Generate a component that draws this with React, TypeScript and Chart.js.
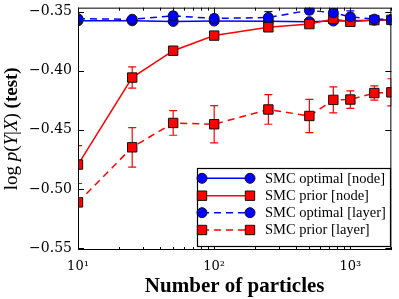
import React, { useEffect, useRef } from 'react';
import { Chart, registerables } from 'chart.js';
Chart.register(...registerables);

const particles = [10, 25, 50, 100, 250, 500, 750, 1000, 1500, 2000];

const optimalNode = [-0.3578, -0.3578, -0.3583, -0.358, -0.3582, -0.3585, -0.358, -0.3577, -0.3573, -0.3572];
const optimalNodeErr = [0.0015, 0.0015, 0.0015, 0.0015, 0.0015, 0.0015, 0.0015, 0.0015, 0.0015, 0.0015];
const priorNode = [-0.4794, -0.4058, -0.3831, -0.3703, -0.3633, -0.3606, -0.3562, -0.3586, -0.3572, -0.357];
const priorNodeErr = [0.016, 0.009, 0.002, 0.002, 0.002, 0.002, 0.002, 0.002, 0.002, 0.002];
const optimalLayer = [-0.356, -0.3565, -0.3536, -0.3558, -0.355, -0.3489, -0.3511, -0.3544, -0.3564, -0.3567];
const optimalLayerErr = [0.002, 0.002, 0.003, 0.003, 0.005, 0.003, 0.003, 0.005, 0.002, 0.002];
const priorLayer = [-0.5114, -0.4648, -0.4442, -0.4453, -0.4328, -0.4383, -0.4247, -0.4244, -0.4189, -0.4183];
const priorLayerErr = [0.002, 0.0167, 0.0104, 0.0157, 0.0125, 0.014, 0.011, 0.0074, 0.006, 0.0115];

const seriesLabels = ['SMC optimal [node]', 'SMC prior [node]', 'SMC optimal [layer]', 'SMC prior [layer]'];
const yTicks = [-0.55, -0.5, -0.45, -0.4, -0.35];
const xMajorTicks = [10, 100, 1000];
const xMinorTicks = [20, 30, 40, 50, 60, 70, 80, 90, 200, 300, 400, 500, 600, 700, 800, 900, 2000];
const xTitle = 'Number of particles';

const RED = '#ff0000';
const BLUE = '#0000ff';
const DASH = [7, 5];

const seriesValues = [optimalNode, priorNode, optimalLayer, priorLayer];
const seriesErrors = [optimalNodeErr, priorNodeErr, optimalLayerErr, priorLayerErr];
const seriesColors = [BLUE, RED, BLUE, RED];
const seriesDashed = [false, false, true, true];
const seriesMarker = ['circle', 'rect', 'circle', 'rect'];

const SUP: Record<string, string> = { '0': '⁰', '1': '¹', '2': '²', '3': '³', '4': '⁴' };

function drawMarker(ctx: CanvasRenderingContext2D, kind: string, x: number, y: number, color: string) {
  ctx.save();
  ctx.setLineDash([]);
  ctx.fillStyle = color;
  ctx.strokeStyle = '#111';
  ctx.lineWidth = 1;
  ctx.beginPath();
  if (kind === 'circle') {
    ctx.arc(x, y, 5, 0, Math.PI * 2);
  } else {
    ctx.rect(x - 4.7, y - 4.7, 9.4, 9.4);
  }
  ctx.fill();
  ctx.stroke();
  ctx.restore();
}

const errorBarPlugin = {
  id: 'errorBars',
  beforeDatasetsDraw(chart: any) {
    const { ctx, chartArea: a, scales } = chart;
    const xs = scales.x;
    const ys = scales.y;
    ctx.save();
    ctx.beginPath();
    ctx.rect(a.left, a.top, a.right - a.left, a.bottom - a.top);
    ctx.clip();
    seriesValues.forEach((vals, s) => {
      ctx.strokeStyle = seriesColors[s];
      ctx.lineWidth = 1.2;
      vals.forEach((v, i) => {
        const e = seriesErrors[s][i];
        const px = xs.getPixelForValue(particles[i]);
        const t = ys.getPixelForValue(v + e);
        const b = ys.getPixelForValue(v - e);
        ctx.beginPath();
        ctx.moveTo(px, t);
        ctx.lineTo(px, b);
        ctx.moveTo(px - 4, t);
        ctx.lineTo(px + 4, t);
        ctx.moveTo(px - 4, b);
        ctx.lineTo(px + 4, b);
        ctx.stroke();
      });
    });
    ctx.restore();
  },
};

const decorPlugin = {
  id: 'decor',
  afterDraw(chart: any) {
    const { ctx, chartArea: a, scales } = chart;
    const xs = scales.x;
    const ys = scales.y;
    ctx.save();
    // frame
    ctx.strokeStyle = '#000';
    ctx.lineWidth = 1;
    ctx.strokeRect(a.left + 0.5, a.top + 0.5, a.right - a.left - 1, a.bottom - a.top - 1);
    // ticks
    ctx.beginPath();
    xMajorTicks.forEach((v) => {
      const px = Math.round(xs.getPixelForValue(v)) + 0.5;
      ctx.moveTo(px, a.bottom);
      ctx.lineTo(px, a.bottom - 6);
      ctx.moveTo(px, a.top);
      ctx.lineTo(px, a.top + 6);
    });
    xMinorTicks.forEach((v) => {
      const px = Math.round(xs.getPixelForValue(v)) + 0.5;
      ctx.moveTo(px, a.bottom);
      ctx.lineTo(px, a.bottom - 3);
      ctx.moveTo(px, a.top);
      ctx.lineTo(px, a.top + 3);
    });
    yTicks.forEach((v) => {
      const py = Math.round(ys.getPixelForValue(v)) + 0.5;
      ctx.moveTo(a.left, py);
      ctx.lineTo(a.left + 6, py);
      ctx.moveTo(a.right, py);
      ctx.lineTo(a.right - 6, py);
    });
    ctx.stroke();

    // legend
    const lx = 197, ly = 168, lw = 194, lh = 79;
    ctx.fillStyle = '#fff';
    ctx.fillRect(lx, ly, lw, lh);
    ctx.strokeStyle = '#000';
    ctx.lineWidth = 1.2;
    ctx.strokeRect(lx + 0.5, ly + 0.5, lw - 1, lh - 1);
    const rowY = [178.3, 195.7, 212.7, 230];
    seriesLabels.forEach((label, s) => {
      const y = rowY[s];
      ctx.save();
      ctx.strokeStyle = seriesColors[s];
      ctx.lineWidth = 1.5;
      ctx.setLineDash(seriesDashed[s] ? DASH : []);
      ctx.beginPath();
      ctx.moveTo(202, y);
      ctx.lineTo(250, y);
      ctx.stroke();
      ctx.restore();
      drawMarker(ctx, seriesMarker[s], 202, y, seriesColors[s]);
      drawMarker(ctx, seriesMarker[s], 250, y, seriesColors[s]);
      ctx.fillStyle = '#000';
      ctx.font = '14.5px "Liberation Serif"';
      ctx.textAlign = 'left';
      ctx.textBaseline = 'middle';
      ctx.fillText(label, 265, y + 0.5);
    });

    // x title
    ctx.fillStyle = '#000';
    ctx.font = 'bold 21px "Liberation Serif"';
    ctx.textAlign = 'center';
    ctx.textBaseline = 'alphabetic';
    ctx.fillText(xTitle, (a.left + a.right) / 2, 292);

    // y title (rich text, rotated)
    const segs: [string, string][] = [
      ['log', '19px "Liberation Serif"'],
      [' ', '19px "Liberation Serif"'],
      ['p', 'italic 19px "Liberation Serif"'],
      ['(', '19px "Liberation Serif"'],
      ['Y', 'italic 19px "Liberation Serif"'],
      ['|', '19px "Liberation Serif"'],
      ['X', 'italic 19px "Liberation Serif"'],
      [')', '19px "Liberation Serif"'],
      [' (test)', 'bold 19px "Liberation Serif"'],
    ];
    let total = 0;
    const widths = segs.map(([t, f]) => {
      ctx.font = f;
      const w = ctx.measureText(t).width;
      total += w;
      return w;
    });
    ctx.save();
    ctx.translate(17, (a.top + a.bottom) / 2);
    ctx.rotate(-Math.PI / 2);
    ctx.textAlign = 'left';
    ctx.textBaseline = 'alphabetic';
    let cx = -total / 2;
    segs.forEach(([t, f], i) => {
      ctx.font = f;
      ctx.fillText(t, cx, 0);
      cx += widths[i];
    });
    ctx.restore();
    ctx.restore();
  },
};

function zeroPad(scale: any) {
  scale.paddingTop = 0;
  scale.paddingBottom = 0;
  scale.paddingLeft = 0;
  scale.paddingRight = 0;
}

export default function App() {
  const ref = useRef<HTMLCanvasElement>(null);
  useEffect(() => {
    document.body.style.margin = '0';
    const datasets = seriesValues.map((vals, s) => ({
      label: seriesLabels[s],
      data: particles.map((p, i) => ({ x: p, y: vals[i] })),
      borderColor: seriesColors[s],
      backgroundColor: seriesColors[s],
      borderWidth: 1.5,
      borderDash: seriesDashed[s] ? DASH : [],
      pointStyle: seriesMarker[s],
      pointRadius: seriesMarker[s] === 'circle' ? 5 : 6.65,
      pointBorderColor: '#111',
      pointBorderWidth: 1,
      pointBackgroundColor: seriesColors[s],
      tension: 0,
      order: 4 - s,
    }));
    const chart = new Chart(ref.current as HTMLCanvasElement, {
      type: 'line',
      data: { datasets: datasets as any },
      plugins: [errorBarPlugin, decorPlugin],
      options: {
        animation: false,
        responsive: false,
        events: [],
        layout: { padding: { top: 4, right: 2, left: 0, bottom: 0 } },
        plugins: { legend: { display: false }, tooltip: { enabled: false } },
        scales: {
          x: {
            type: 'logarithmic',
            min: 10,
            max: 2000,
            grid: { display: false, drawTicks: false },
            border: { display: false },
            afterBuildTicks: (scale: any) => {
              scale.ticks = xMajorTicks.map((v) => ({ value: v }));
            },
            afterFit: (scale: any) => {
              scale.height = 49;
              zeroPad(scale);
            },
            ticks: {
              autoSkip: false,
              maxRotation: 0,
              padding: 9,
              color: '#000',
              font: { family: '"DejaVu Serif"', size: 13 },
              callback: (v: any) => '10' + SUP[String(Math.round(Math.log10(Number(v))))],
            },
          },
          y: {
            type: 'linear',
            min: -0.55167,
            max: -0.34667,
            grid: { display: false, drawTicks: false },
            border: { display: false },
            afterBuildTicks: (scale: any) => {
              scale.ticks = yTicks.map((v) => ({ value: v }));
            },
            afterFit: (scale: any) => {
              scale.width = 78;
              zeroPad(scale);
            },
            ticks: {
              autoSkip: false,
              padding: 6,
              color: '#000',
              font: { family: '"DejaVu Serif"', size: 14 },
              callback: (v: any) => (Number(v) < 0 ? '\u2212' : '') + Math.abs(Number(v)).toFixed(2),
            },
          },
        },
      } as any,
    });
    return () => chart.destroy();
  }, []);
  return (
    <div style={{ width: 399, height: 299 }}>
      <canvas ref={ref} width={399} height={299} style={{ display: 'block', width: 399, height: 299 }} />
    </div>
  );
}
